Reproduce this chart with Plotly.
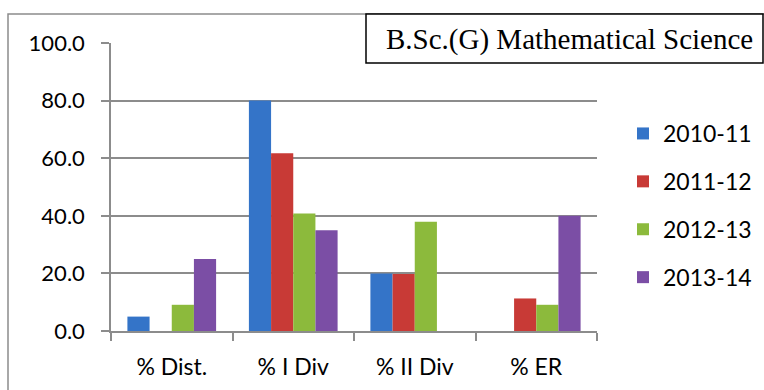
import plotly.graph_objects as go

categories = ["% Dist.", "% I Div", "% II Div", "% ER"]
series_names = ["2010-11", "2011-12", "2012-13", "2013-14"]
v_2010_11 = [5.0, 80.0, 20.0, 0.0]
v_2011_12 = [0.0, 61.7, 19.8, 11.3]
v_2012_13 = [9.1, 40.8, 37.9, 9.1]
v_2013_14 = [25.0, 35.0, 0.0, 40.0]
y_ticks = [0, 20, 40, 60, 80, 100]
y_tick_labels = ["0.0", "20.0", "40.0", "60.0", "80.0", "100.0"]
title_text = "B.Sc.(G) Mathematical Science"

colors = ["#3474c8", "#c83a36", "#8cba3c", "#7b4ea5"]
values = [v_2010_11, v_2011_12, v_2012_13, v_2013_14]

fig = go.Figure()
for name, vals, c in zip(series_names, values, colors):
    fig.add_trace(go.Bar(
        x=categories, y=vals, name=name, legendgroup=name,
        marker=dict(color=c, line=dict(width=0)),
    ))

W, H = 764, 390
L, R, T, B = 111, 597, 43, 331
pw, ph = R - L, B - T

def px(x):
    return (x - L) / pw

def py(y):
    return (B - y) / ph

fig.update_layout(
    width=W, height=H,
    margin=dict(l=L, r=W - R, t=T, b=H - B, autoexpand=False),
    paper_bgcolor="white", plot_bgcolor="white",
    barmode="group", bargap=0.27, bargroupgap=0,
    font=dict(family="Lato, 'Open Sans', sans-serif", size=22, color="black"),
    showlegend=True,
    legend=dict(
        x=px(623), y=py(134 - 22), xanchor="left", yanchor="top",
        font=dict(size=23), tracegroupgap=15, traceorder="grouped",
        bgcolor="rgba(0,0,0,0)",
    ),
    xaxis=dict(
        showgrid=False, showline=True, linecolor="#8c8c8c", linewidth=1.5,
        ticks="outside", ticklen=8, tickcolor="#8c8c8c", tickwidth=1.5,
        tickson="boundaries", tickfont=dict(size=23), ticklabelstandoff=15,
        automargin=False,
    ),
    yaxis=dict(
        range=[0, 100], tickvals=y_ticks, ticktext=y_tick_labels,
        showgrid=True, gridcolor="#8c8c8c", gridwidth=1.5,
        showline=True, linecolor="#8c8c8c", linewidth=1.5,
        ticks="outside", ticklen=8, tickcolor="#8c8c8c", tickwidth=1.5,
        tickfont=dict(size=22), zeroline=False, ticklabelstandoff=12,
        automargin=False,
    ),
    shapes=[
        dict(type="rect", xref="paper", yref="paper",
             x0=px(8), x1=px(820), y0=py(14), y1=py(440),
             line=dict(color="#8c8c8c", width=1.5), fillcolor="rgba(0,0,0,0)", layer="above"),
        dict(type="rect", xref="paper", yref="paper",
             x0=px(366), x1=px(763), y0=py(14), y1=py(63),
             line=dict(color="black", width=1.5), fillcolor="white", layer="above"),
    ],
    annotations=[
        dict(text=title_text, xref="paper", yref="paper",
             x=px(569), y=py(39), xanchor="center", yanchor="middle",
             showarrow=False,
             font=dict(family="Liberation Serif, 'Times New Roman', serif", size=29, color="black")),
    ],
)

fig.write_html("out.html", config={"displayModeBar": False},
               post_script="document.body.style.margin='0';")
